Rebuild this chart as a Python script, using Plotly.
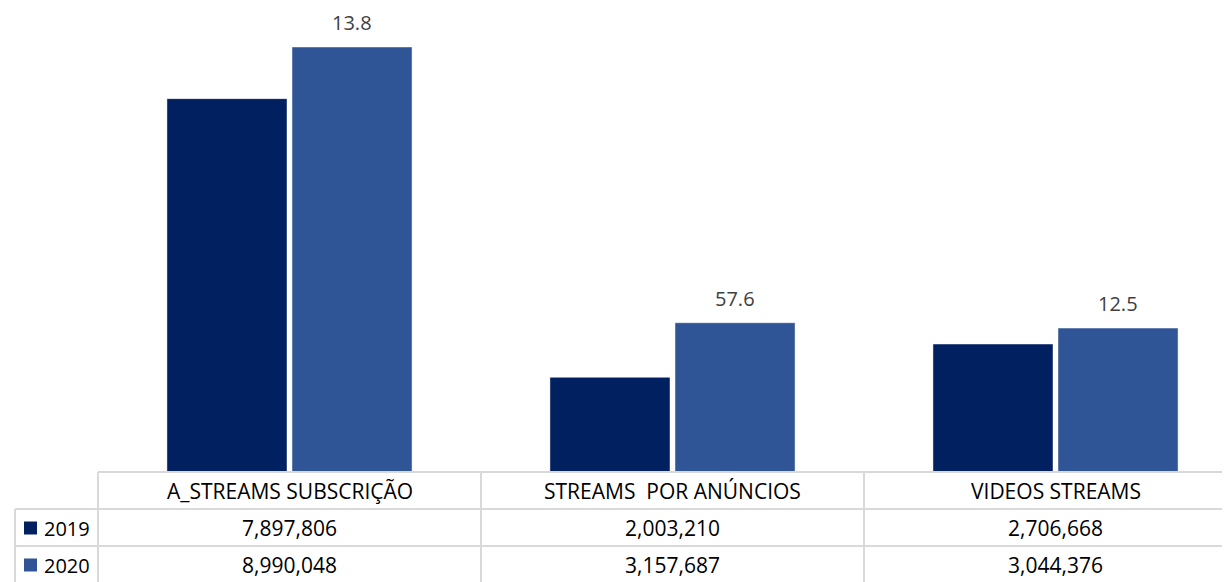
import plotly.graph_objects as go

categories = ["A_STREAMS SUBSCRIÇÃO", "STREAMS  POR ANÚNCIOS", "VIDEOS STREAMS"]
series_names = ["2019", "2020"]
values_2019 = [7897806, 2003210, 2706668]
values_2020 = [8990048, 3157687, 3044376]
growth_labels = ["13.8", "57.6", "12.5"]

colors = ["#002060", "#2F5597"]
FONT = "Open Sans"
FS = 21
OFF = 8  # page body margin
W, H = 1230 - OFF, 582 - OFF
PLOT_LEFT, PLOT_BOTTOM = 98, 472   # in screenshot pixels
ML = PLOT_LEFT - OFF
PLOT_H = PLOT_BOTTOM - OFF
MB = H - PLOT_H
PLOT_W = W - ML
X_RANGE = [-0.5, 2.4556]
Y_MAX = PLOT_H * 8990048 / 425.0

fig = go.Figure()
idx = list(range(len(categories)))
for name, vals, col in zip(series_names, [values_2019, values_2020], colors):
    fig.add_trace(go.Bar(
        x=idx, y=vals, name=name, marker_color=col,
        marker_line=dict(color="rgba(255,255,255,0.45)", width=1),
        hoverinfo="skip",
    ))

def py(p):
    return (PLOT_BOTTOM - p) / PLOT_H

def px(p):
    return (p - PLOT_LEFT) / PLOT_W

def dx(x):
    return (x - X_RANGE[0]) / (X_RANGE[1] - X_RANGE[0])

annotations = []
for i, (lab, v) in enumerate(zip(growth_labels, values_2020)):
    annotations.append(dict(x=i + 0.1633, y=v, xref="x", yref="y", text=lab,
                            showarrow=False, xanchor="center", yanchor="bottom", yshift=10,
                            borderpad=0,
                            font=dict(family=FONT, size=FS - 1, color="#404040")))

row_centers = [491, 528, 565]
row_lines = [472, 509, 546]

for i, c in enumerate(categories):
    annotations.append(dict(x=i, y=py(row_centers[0]), xref="x", yref="paper",
                            text=c, showarrow=False, xanchor="center", yanchor="middle",
                            font=dict(family=FONT, size=FS, color="#000000")))
for r, vals in enumerate([values_2019, values_2020]):
    for i, v in enumerate(vals):
        annotations.append(dict(x=i, y=py(row_centers[r + 1]), xref="x", yref="paper",
                                text=f"{v:,}", showarrow=False, xanchor="center", yanchor="middle",
                                font=dict(family=FONT, size=FS, color="#000000")))
    annotations.append(dict(x=px(42), y=py(row_centers[r + 1]),
                            xref="paper", yref="paper", text=series_names[r],
                            showarrow=False, xanchor="left", yanchor="middle",
                            font=dict(family=FONT, size=FS - 1, color="#000000")))

shapes = []
LC = "#D9D9D9"
LW = 2
shapes.append(dict(type="line", xref="paper", yref="paper", x0=0, x1=1.05,
                   y0=py(row_lines[0]), y1=py(row_lines[0]), line=dict(color=LC, width=LW)))
for p in row_lines[1:]:
    shapes.append(dict(type="line", xref="paper", yref="paper", x0=px(15), x1=1.05,
                       y0=py(p), y1=py(p), line=dict(color=LC, width=LW)))
for b in [-0.5, 0.5, 1.5]:
    xp = dx(b)
    shapes.append(dict(type="line", xref="paper", yref="paper", x0=xp, x1=xp,
                       y0=py(row_lines[0]), y1=py(600), line=dict(color=LC, width=LW)))
shapes.append(dict(type="line", xref="paper", yref="paper", x0=px(15), x1=px(15),
                   y0=py(row_lines[1]), y1=py(600), line=dict(color=LC, width=LW)))
for r, col in enumerate(colors):
    cy = row_centers[r + 1]
    shapes.append(dict(type="rect", xref="paper", yref="paper",
                       x0=px(24), x1=px(37), y0=py(cy + 6.5), y1=py(cy - 6.5),
                       fillcolor=col, line=dict(width=0)))

fig.update_layout(
    width=W, height=H,
    margin=dict(l=ML, r=0, t=0, b=MB),
    barmode="group", bargap=0.347, bargroupgap=0.04,
    plot_bgcolor="white", paper_bgcolor="white",
    showlegend=False,
    xaxis=dict(range=X_RANGE, showticklabels=False, showgrid=False, zeroline=False,
               showline=False, ticks=""),
    yaxis=dict(range=[0, Y_MAX], visible=False, showgrid=False, zeroline=False),
    annotations=annotations, shapes=shapes,
    font=dict(family=FONT),
)

fig.write_html("out.html")
